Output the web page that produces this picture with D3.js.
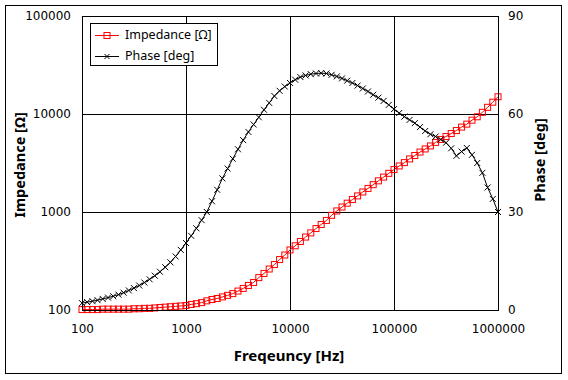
<!DOCTYPE html>
<html><head><meta charset="utf-8">
<script src="https://cdn.jsdelivr.net/npm/d3@7"></script>
<style>body{margin:0;background:#fff} svg{display:block}</style>
</head><body><svg id="c" width="568" height="380"></svg>
<script>
const freq = [100,112,126,141,158,178,200,224,251,282,316,355,398,447,501,562,631,708,794,891,
  1000,1122,1259,1413,1585,1778,1995,2239,2512,2818,3162,3548,3981,4467,5012,5623,6310,7079,7943,8913,
  10000,11220,12589,14125,15849,17783,19953,22387,25119,28184,31623,35481,39811,44668,50119,56234,63096,70795,79433,89125,
  100000,112202,125893,141254,158489,177828,199526,223872,251189,281838,316228,354813,398107,446684,501187,562341,630957,707946,794328,891251,1000000];
const impedance = [101,101,101,101,102,102,102,102,102,102,103,103,104,104,105,106,107,108,109,110,111,
  114,116,119,124,128,131,136,141,147,156,166,178,191,
  214,236,262,291,327,364,
  410,452,500,555,612,678,745,820,925,
  1025,1124,1230,1340,1460,1600,1740,1900,2080,2270,2480,2710,
  2950,3190,3480,3770,4090,4400,4720,5130,5500,5890,6320,6780,7350,7880,8650,9370,10400,11700,13200,15000];
const phase = [2.1,2.4,2.7,3.0,3.4,3.8,4.2,4.7,5.3,6.0,6.7,7.5,8.4,9.4,10.5,11.7,13.1,14.6,16.4,18.4,20.5,
  22.7,25.0,27.5,30.0,33.3,36.8,40.3,43.3,46.3,49.2,52.0,54.5,56.8,59.0,61.3,63.4,65.5,67.1,68.4,69.5,
  70.5,71.3,71.8,72.2,72.4,72.5,72.4,72.0,71.5,70.9,70.2,69.5,68.7,67.8,66.9,65.9,65.0,64.0,62.8,61.5,
  60.3,59.2,58.2,57.2,56.0,54.8,53.8,53.1,52.2,51.2,49.5,47.2,48.5,49.6,47.5,45.0,42.0,37.5,34.0,30.0];
const xTicks = [100,1000,10000,100000,1000000];
const yLeftTicks = [100,1000,10000,100000];
const yRightTicks = [0,30,60,90];
const seriesNames = ["Impedance [\u03A9]","Phase [deg]"];
const xTitle = "Freqeuncy [Hz]";
const yLeftTitle = "Impedance [\u03A9]";
const yRightTitle = "Phase [deg]";

const svg = d3.select("#c");
const L=82, R=498, T=16, B=310;
const x = d3.scaleLog().domain([100,1000000]).range([L,R]);
const yL = d3.scaleLog().domain([100,100000]).range([B,T]);
const yR = d3.scaleLinear().domain([0,90]).range([B,T]);
const tickFont = "DejaVu Sans, sans-serif";
const titleFont = "Noto Sans, sans-serif";

// outer frame
svg.append("rect").attr("x",5.5).attr("y",5.5).attr("width",556).attr("height",368)
  .attr("fill","#fff").attr("stroke","#000").attr("stroke-width",1);

// grid
const g = svg.append("g").attr("shape-rendering","crispEdges");
xTicks.forEach(t=>{ g.append("line").attr("x1",Math.round(x(t))+0.5).attr("x2",Math.round(x(t))+0.5)
  .attr("y1",T).attr("y2",B+1).attr("stroke","#000"); });
yLeftTicks.forEach(t=>{ g.append("line").attr("x1",L).attr("x2",R+1)
  .attr("y1",Math.round(yL(t))+0.5).attr("y2",Math.round(yL(t))+0.5).attr("stroke","#000"); });

// axes (labels only)
const ax = d3.axisBottom(x).tickValues(xTicks).tickFormat(d3.format("d")).tickSize(0).tickPadding(0);
const gx = svg.append("g").attr("transform",`translate(0,${B+14})`).call(ax);
gx.select(".domain").remove();
gx.selectAll("text").attr("font-family",tickFont).attr("font-size",12).attr("fill","#000").attr("dy","0.71em");

const ayl = d3.axisLeft(yL).tickValues(yLeftTicks).tickFormat(d3.format("d")).tickSize(0).tickPadding(0);
const gyl = svg.append("g").attr("transform",`translate(${L-11},0)`).call(ayl);
gyl.select(".domain").remove();
gyl.selectAll("text").attr("font-family",tickFont).attr("font-size",12).attr("fill","#000");

const ayr = d3.axisRight(yR).tickValues(yRightTicks).tickSize(0).tickPadding(0);
const gyr = svg.append("g").attr("transform",`translate(${R+10},0)`).call(ayr);
gyr.select(".domain").remove();
gyr.selectAll("text").attr("font-family",tickFont).attr("font-size",12).attr("fill","#000");

// titles
svg.append("text").attr("x",289).attr("y",361).attr("text-anchor","middle")
  .attr("font-family",titleFont).attr("font-weight","bold").attr("font-size",15).text(xTitle);
svg.append("text").attr("transform","translate(25,165) rotate(-90)").attr("text-anchor","middle")
  .attr("font-family",titleFont).attr("font-weight","bold").attr("font-size",14.5).text(yLeftTitle);
svg.append("text").attr("transform","translate(545,160) rotate(-90)").attr("text-anchor","middle")
  .attr("font-family",titleFont).attr("font-weight","bold").attr("font-size",14.5).text(yRightTitle);

// data
const imp = freq.map((f,i)=>({f, v:impedance[i]}));
const ph = freq.map((f,i)=>({f, v:phase[i]}));

const plot = svg.append("g");
plot.append("path").datum(imp).attr("fill","none").attr("stroke","#ff0000").attr("stroke-width",1)
  .attr("d", d3.line().x(d=>x(d.f)).y(d=>yL(d.v)));
plot.append("path").datum(ph).attr("fill","none").attr("stroke","#000").attr("stroke-width",1)
  .attr("d", d3.line().x(d=>x(d.f)).y(d=>yR(d.v)));

const s = 3;
plot.selectAll("rect.m").data(imp).enter().append("rect").attr("class","m")
  .attr("x",d=>x(d.f)-s).attr("y",d=>yL(d.v)-s).attr("width",2*s).attr("height",2*s)
  .attr("fill","none").attr("stroke","#ff0000").attr("stroke-width",1);
const xs = 3;
plot.selectAll("path.x").data(ph).enter().append("path").attr("class","x")
  .attr("d",d=>{const cx=x(d.f), cy=yR(d.v); return `M${cx-xs},${cy-xs}L${cx+xs},${cy+xs}M${cx-xs},${cy+xs}L${cx+xs},${cy-xs}`;})
  .attr("stroke","#000").attr("stroke-width",1).attr("fill","none");

// plot frame
svg.append("rect").attr("x",L+0.5).attr("y",T+0.5).attr("width",R-L).attr("height",B-T)
  .attr("fill","none").attr("stroke","#000").attr("shape-rendering","crispEdges");

// legend
const lg = svg.append("g");
lg.append("rect").attr("x",90.5).attr("y",23.5).attr("width",127).attr("height",42)
  .attr("fill","#fff").attr("stroke","#000").attr("shape-rendering","crispEdges");
const rows = [{name:seriesNames[0], color:"#ff0000", type:"sq", y:35},{name:seriesNames[1], color:"#000", type:"x", y:56}];
rows.forEach(r=>{
  lg.append("line").attr("x1",95).attr("x2",119).attr("y1",r.y+0.5).attr("y2",r.y+0.5).attr("stroke",r.color);
  if(r.type==="sq"){
    lg.append("rect").attr("x",107-s).attr("y",r.y+0.5-s).attr("width",2*s).attr("height",2*s).attr("fill","none").attr("stroke",r.color);
  } else {
    const cx=107, cy=r.y+0.5, k=2.5;
    lg.append("path").attr("d",`M${cx-k},${cy-k}L${cx+k},${cy+k}M${cx-k},${cy+k}L${cx+k},${cy-k}`).attr("stroke",r.color);
  }
  lg.append("text").attr("x",125).attr("y",r.y).attr("dy","0.35em").attr("font-family",titleFont)
    .attr("font-size",12.5).attr("fill","#000").text(r.name);
});
</script></body></html>
